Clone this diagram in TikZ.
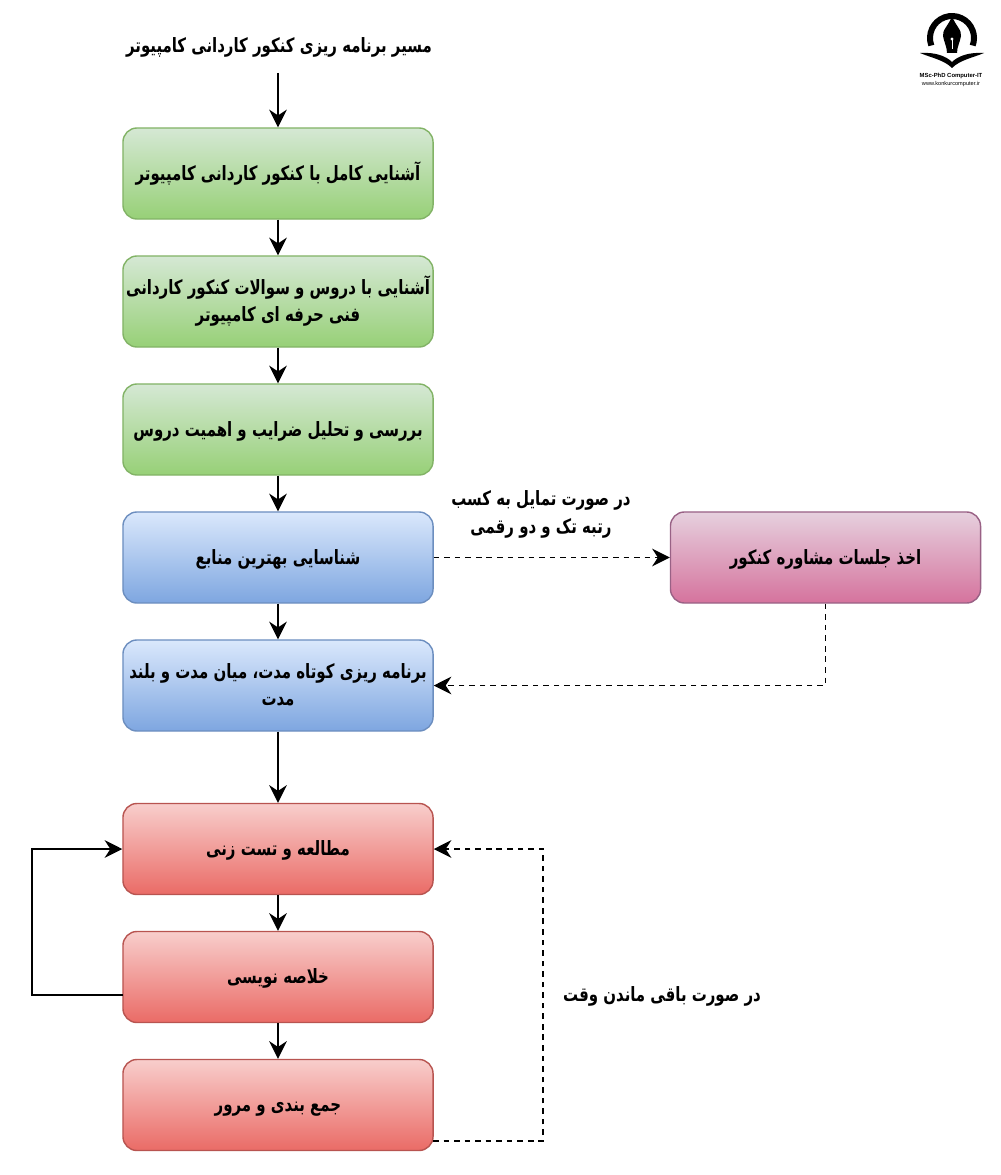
\documentclass[tikz,border=0pt]{standalone}
\usepackage{fontspec}
\usetikzlibrary{arrows.meta}
\newfontfamily\farsi[Script=Arabic,FakeStretch=0.76]{DejaVu Sans}
\newfontfamily\latinfont{Liberation Sans}
\TeXXeTstate=1
\newcommand{\fa}[1]{\rule[-0.29em]{0pt}{1.24em}\beginR #1\endR}
\definecolor{greentop}{HTML}{D5E8D4}
\definecolor{greenbot}{HTML}{97D077}
\definecolor{greenline}{HTML}{82B366}
\definecolor{bluetop}{HTML}{DAE8FC}
\definecolor{bluebot}{HTML}{7EA6E0}
\definecolor{blueline}{HTML}{6C8EBF}
\definecolor{redtop}{HTML}{F8CECC}
\definecolor{redbot}{HTML}{EA6B66}
\definecolor{redline}{HTML}{B85450}
\definecolor{pinktop}{HTML}{E6D0DE}
\definecolor{pinkbot}{HTML}{D5739D}
\definecolor{pinkline}{HTML}{996185}
\tikzset{
  stage/.style={draw, shape=rectangle, rounded corners=0.35cm, minimum width=7.75cm, minimum height=2.275cm, line width=1pt, inner sep=0pt, align=center, font=\farsi\bfseries\fontsize{14}{19.5}\selectfont},
  greenbox/.style={stage, top color=greentop, bottom color=greenbot, draw=greenline},
  bluebox/.style={stage, top color=bluetop, bottom color=bluebot, draw=blueline},
  redbox/.style={stage, top color=redtop, bottom color=redbot, draw=redline},
  pinkbox/.style={stage, top color=pinktop, bottom color=pinkbot, draw=pinkline},
  note/.style={align=center, inner sep=0pt, font=\farsi\bfseries\fontsize{14}{20.5}\selectfont},
  flow/.style={line width=1.4pt, -{Stealth[length=0.44cm,width=0.44cm]}},
  maybe/.style={flow, dash pattern=on 4pt off 3.5pt}
}
\begin{document}
\begin{tikzpicture}[x=0.025cm,y=-0.025cm]
\useasboundingbox (0,0) rectangle (1000,1175);

% title
\node at (279,46) [note] (title) {\fa{مسیر برنامه ریزی کنکور کاردانی کامپیوتر}};
\coordinate (titleout) at (278,73);

% boxes
\node at (278,173.5) [greenbox] (intro) {\fa{آشنایی کامل با کنکور کاردانی کامپیوتر}};
\node at (278,301.5) [greenbox] (lessons) {\fa{آشنایی با دروس و سوالات کنکور کاردانی}\\\fa{فنی حرفه ای کامپیوتر}};
\node at (278,429.5) [greenbox] (weights) {\fa{بررسی و تحلیل ضرایب و اهمیت دروس}};
\node at (278,557.5) [bluebox] (sources) {\fa{شناسایی بهترین منابع}};
\node at (278,685.5) [bluebox] (plan) {\fa{برنامه ریزی کوتاه مدت، میان مدت و بلند}\\\fa{مدت}};
\node at (278,849) [redbox] (study) {\fa{مطالعه و تست زنی}};
\node at (278,977) [redbox] (summary) {\fa{خلاصه نویسی}};
\node at (278,1105) [redbox] (review) {\fa{جمع بندی و مرور}};
\node at (825.5,557.5) [pinkbox] (advice) {\fa{اخذ جلسات مشاوره کنکور}};

% labels
\node at (541,513) [note] (ranklabel) {\fa{در صورت تمایل به کسب}\\\fa{رتبه تک و دو رقمی}};
\node at (662,995) [note] (timelabel) {\fa{در صورت باقی ماندن وقت}};

% connectors
\draw[flow] (titleout) -- (intro.north);
\draw[flow] (intro) -- (lessons);
\draw[flow] (lessons) -- (weights);
\draw[flow] (weights) -- (sources);
\draw[flow] (sources) -- (plan);
\draw[flow] (plan) -- (study);
\draw[flow] (study) -- (summary);
\draw[flow] (summary) -- (review);
\draw[maybe] (sources) -- (advice);
\draw[maybe] (advice.south) |- (plan.east);
\coordinate (summaryout) at (123,995);
\coordinate (loopleft) at (32,995);
\draw[flow] (summaryout) -- (loopleft) |- (study.west);
\coordinate (reviewout) at (433,1141);
\coordinate (loopright) at (543,1141);
\draw[maybe] (reviewout) -- (loopright) |- (study.east);

% logo
\draw[black,line width=0.15cm] (952,38) ++(160:22) arc (160:380:22);
\fill[black] (952,16) .. controls (955,25) and (962,30) .. (961,36) .. controls (960,42) and (957,47) .. (957,53) -- (947,53) .. controls (947,47) and (944,42) .. (943,36) .. controls (942,30) and (949,25) .. (952,16) -- cycle;
\fill[white] (952,39) circle (1.7);
\draw[white,line width=0.6pt] (952,39) -- (952,49);
\fill[black] (920,53) .. controls (935,52) and (946,56) .. (952,62) .. controls (958,56) and (969,52) .. (984,53) .. controls (972,58) and (960,60) .. (952,68) .. controls (944,60) and (932,58) .. (920,53) -- cycle;
\node at (951,76) [font=\latinfont\bfseries\fontsize{4.2}{4}\selectfont, inner sep=0pt] (logoname) {MSc-PhD Computer-IT};
\node at (951,84) [font=\latinfont\fontsize{4}{4}\selectfont, inner sep=0pt] (logosite) {www.konkurcomputer.ir};
\end{tikzpicture}
\end{document}
